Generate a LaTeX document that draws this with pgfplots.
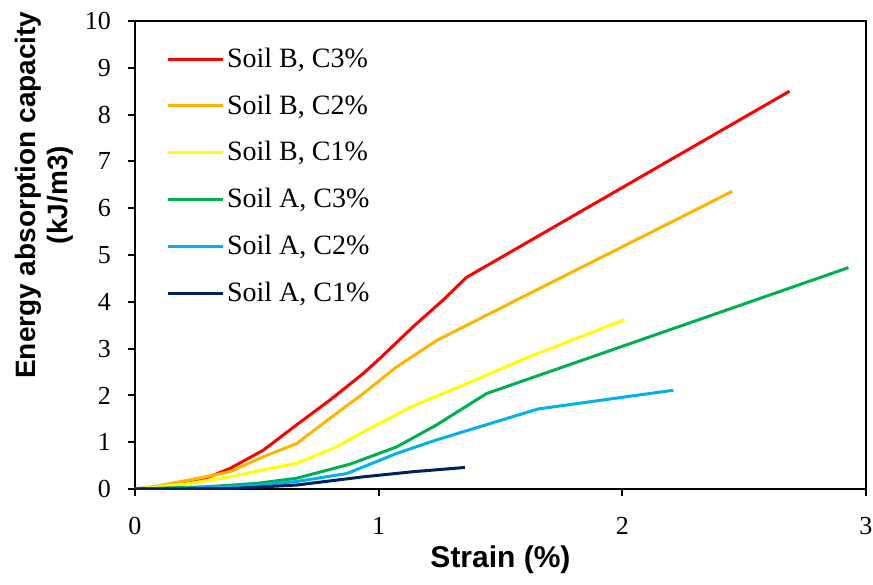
\documentclass[border=0pt]{standalone}
\usepackage{fontspec}
\setmainfont{Liberation Serif}
\setsansfont{Liberation Sans}
\usepackage{pgfplots}
\pgfplotsset{compat=1.18}

\definecolor{cB3}{HTML}{FF0000}
\definecolor{cB2}{HTML}{FFB400}
\definecolor{cB1}{HTML}{FFFF00}
\definecolor{cA3}{HTML}{00B050}
\definecolor{cA2}{HTML}{00B0F0}
\definecolor{cA1}{HTML}{002060}

\begin{document}
\begin{tikzpicture}
\begin{axis}[
  name=main,
  scale only axis,
  width=365.5pt, height=234pt,
  xmin=0, xmax=3, ymin=0, ymax=10,
  xtick={0,1,2,3}, ytick={0,1,...,10},
  /pgf/number format/assume math mode=true,
  tick label style={font=\fontsize{13}{14}\selectfont},
  xticklabel style={yshift=-7pt},
  yticklabel style={xshift=-5pt},
  tick align=outside, major tick length=3.5pt,
  tick style={line width=1pt, black},
  xtick pos=bottom, ytick pos=left,
  axis line style={line width=1.3pt},
  xlabel={Strain (\%)},
  ylabel={Energy absorption capacity\\(kJ/m3)},
  xlabel style={font=\sffamily\bfseries\fontsize{15}{16}\selectfont,
    at={(axis description cs:0.5,0)}, anchor=base, yshift=-39pt},
  ylabel style={font=\sffamily\bfseries\fontsize{14}{16}\selectfont,
    align=center, at={(axis description cs:-0.1235,0.628)}, anchor=center},
  every axis plot/.append style={line width=1.5pt, line join=round},
  legend style={draw=none, fill=none, at={(axis description cs:0.0337,0.9585)},
    anchor=north west, font=\fontsize{14}{16}\selectfont, row sep=9.2pt,
    nodes={inner sep=1.5pt}},
  legend cell align=left,
  legend image code/.code={\draw[#1] (0pt,0pt) -- (27.5pt,0pt);},
]
% Soil B, 3% cement
\addplot[cB3] coordinates {
  (0,0) (0.1,0.05) (0.2,0.12) (0.3,0.25) (0.39,0.44) (0.527,0.83)
  (0.663,1.37) (0.80,1.90) (0.937,2.47) (1.005,2.79) (1.142,3.47)
  (1.265,4.04) (1.36,4.52) (2.686,8.50)};
\addlegendentry{Soil B, C3\%}
% Soil B, 2% cement
\addplot[cB2] coordinates {
  (0,0) (0.1,0.07) (0.2,0.17) (0.3,0.27) (0.39,0.37) (0.527,0.69)
  (0.663,0.97) (0.80,1.51) (0.937,2.04) (1.074,2.61) (1.24,3.18)
  (2.451,6.36)};
\addlegendentry{Soil B, C2\%}
% Soil B, 1% cement
\addplot[cB1] coordinates {
  (0,0) (0.2,0.10) (0.39,0.26) (0.527,0.41) (0.663,0.55) (0.827,0.90)
  (0.937,1.22) (1.135,1.76) (1.347,2.22) (1.62,2.83) (2.009,3.62)};
\addlegendentry{Soil B, C1\%}
% Soil A, 3% cement
\addplot[cA3] coordinates {
  (0,0) (0.3,0.05) (0.5,0.12) (0.663,0.23) (0.882,0.53) (1.074,0.90)
  (1.238,1.37) (1.443,2.04) (2.928,4.73)};
\addlegendentry{Soil A, C3\%}
% Soil A, 2% cement
\addplot[cA2] coordinates {
  (0,0) (0.3,0.03) (0.5,0.08) (0.663,0.16) (0.869,0.33) (1.074,0.76)
  (1.238,1.05) (1.654,1.71) (2.209,2.11)};
\addlegendentry{Soil A, C2\%}
% Soil A, 1% cement
\addplot[cA1] coordinates {
  (0,0) (0.4,0.01) (0.663,0.085) (0.937,0.26) (1.142,0.37) (1.354,0.46)};
\addlegendentry{Soil A, C1\%}
\end{axis}
% fixed page margins around the plot area
\pgfresetboundingbox
\path[use as bounding box]
  ([shift={(-67.5pt,-47.5pt)}]main.south west)
  rectangle ([shift={(3.5pt,10.5pt)}]main.north east);
\end{tikzpicture}
\end{document}
